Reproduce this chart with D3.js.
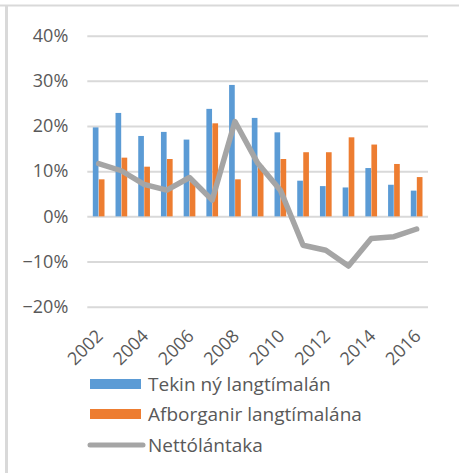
<!DOCTYPE html>
<html>
<head>
<meta charset="utf-8">
<script src="https://cdn.jsdelivr.net/npm/d3@7"></script>
<style>
  body { margin: 0; background: #fff; }
  text { font-family: "Open Sans", sans-serif; fill: #595959; }
</style>
</head>
<body>
<script>
// data
const years = ["2002","2003","2004","2005","2006","2007","2008","2009","2010","2011","2012","2013","2014","2015","2016"];
const tekin = [0.197, 0.229, 0.178, 0.187, 0.170, 0.238, 0.291, 0.218, 0.186, 0.079, 0.067, 0.064, 0.107, 0.070, 0.057];
const afborganir = [0.082, 0.130, 0.110, 0.127, 0.076, 0.206, 0.082, 0.112, 0.127, 0.142, 0.142, 0.175, 0.159, 0.116, 0.087];
const netto = [0.117, 0.101, 0.071, 0.058, 0.086, 0.036, 0.210, 0.118, 0.058, -0.064, -0.075, -0.110, -0.049, -0.045, -0.028];
const yTicks = [-0.2, -0.1, 0, 0.1, 0.2, 0.3, 0.4];
const xLabels = ["2002","2004","2006","2008","2010","2012","2014","2016"];
const seriesNames = ["Tekin ný langtímalán", "Afborganir langtímalána", "Nettólántaka"];

const WIDTH = 459, HEIGHT = 473;
const LEFT = 87.3, RIGHT = 428, TOP = 35.7, BOTTOM = 306.7;
const BLUE = "#5b9bd5", ORANGE = "#ed7d31", GREY = "#a5a5a5";

var svg = d3.select("body").append("svg")
    .attr("width", WIDTH)
    .attr("height", HEIGHT);

// chart frame (only top and left edges show)
svg.append("line").attr("x1", 0).attr("x2", WIDTH).attr("y1", 5.5).attr("y2", 5.5)
    .attr("stroke", "#d9d9d9").attr("stroke-width", 2);
svg.append("line").attr("x1", 6.5).attr("x2", 6.5).attr("y1", 5).attr("y2", HEIGHT)
    .attr("stroke", "#d9d9d9").attr("stroke-width", 3);

var yScale = d3.scaleLinear().domain([-0.2, 0.4]).range([BOTTOM, TOP]);
var x0 = d3.scaleBand().domain(years).range([LEFT, RIGHT])
    .paddingInner(0.485).paddingOuter(0.2425);
var x1 = d3.scaleBand().domain([0, 1]).range([0, x0.bandwidth()]).paddingInner(0.06);
var cx = y => x0(y) + x0.bandwidth() / 2;

// gridlines + y labels
var yAxis = svg.append("g")
    .attr("transform", `translate(${LEFT},0)`)
    .call(d3.axisLeft(yScale).tickValues(yTicks)
        .tickSize(-(RIGHT - LEFT)).tickPadding(19)
        .tickFormat(d3.format(".0%")));
yAxis.select(".domain").remove();
yAxis.selectAll(".tick line").attr("stroke", "#d9d9d9").attr("stroke-width", 2);
yAxis.selectAll(".tick text")
    .attr("font-size", "18px").attr("fill", "#595959")
    .style("font-family", "'Open Sans', sans-serif");

// bars
var groups = svg.append("g").selectAll("g")
    .data(years).enter().append("g")
    .attr("transform", d => `translate(${x0(d)},0)`);

groups.append("rect")
    .attr("x", x1(0))
    .attr("width", x1.bandwidth())
    .attr("y", (d, i) => yScale(tekin[i]))
    .attr("height", (d, i) => yScale(0) - yScale(tekin[i]))
    .attr("fill", BLUE);

groups.append("rect")
    .attr("x", x1(1))
    .attr("width", x1.bandwidth())
    .attr("y", (d, i) => yScale(afborganir[i]))
    .attr("height", (d, i) => yScale(0) - yScale(afborganir[i]))
    .attr("fill", ORANGE);

// net borrowing line
var line = d3.line()
    .x((d, i) => cx(years[i]))
    .y(d => yScale(d));
svg.append("path")
    .datum(netto)
    .attr("d", line)
    .attr("fill", "none")
    .attr("stroke", GREY)
    .attr("stroke-width", 5.5)
    .attr("stroke-linejoin", "round")
    .attr("stroke-linecap", "round");

// x labels, rotated
svg.append("g").selectAll("text")
    .data(xLabels).enter().append("text")
    .attr("transform", d => `translate(${cx(d) + 1},${BOTTOM + 26}) rotate(-45)`)
    .attr("text-anchor", "end")
    .attr("dy", "0.35em")
    .attr("font-size", "18px")
    .text(d => d);

// legend
var legend = svg.append("g");
var rowY = [384, 414, 445];
legend.append("rect").attr("x", 90).attr("y", rowY[0] - 5).attr("width", 51).attr("height", 10).attr("fill", BLUE);
legend.append("rect").attr("x", 90).attr("y", rowY[1] - 5).attr("width", 51).attr("height", 10).attr("fill", ORANGE);
legend.append("line").attr("x1", 90).attr("x2", 143).attr("y1", rowY[2]).attr("y2", rowY[2])
    .attr("stroke", GREY).attr("stroke-width", 5).attr("stroke-linecap", "round");
legend.selectAll("text.leg")
    .data(seriesNames).enter().append("text")
    .attr("class", "leg")
    .attr("x", 148)
    .attr("y", (d, i) => rowY[i])
    .attr("dy", "0.35em")
    .attr("font-size", "19px")
    .text(d => d);
</script>
</body>
</html>
